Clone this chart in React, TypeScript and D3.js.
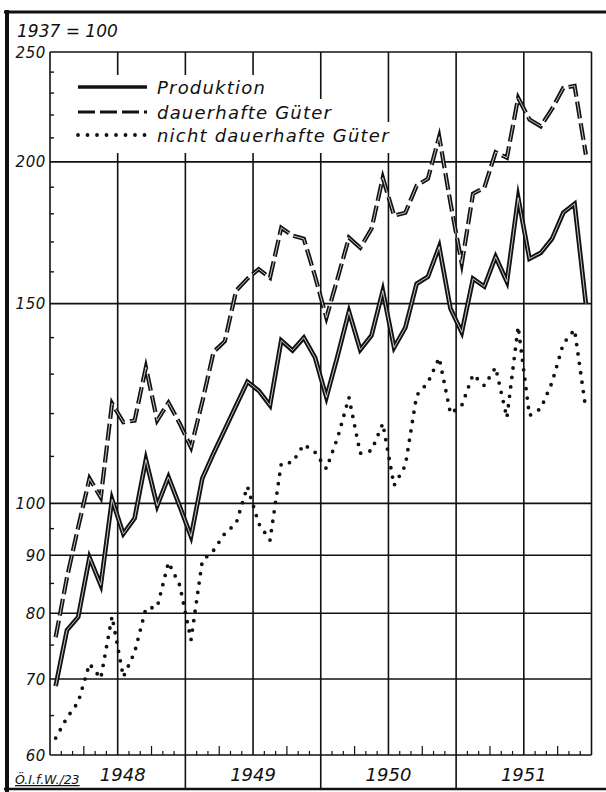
import { scaleLinear, scaleLog, line } from 'd3';

// monthly index values, 1937 = 100, Jan 1948 .. Dec 1951
const years = ['1948', '1949', '1950', '1951'];

const production = [
  69, 77.3, 79.4, 89.6, 84.7, 100.8, 94, 97, 109.3, 99.5, 105.5, 99.4,
  93.5, 105.2, 110.7, 116.2, 122, 128, 125.7, 122, 139.2, 136.4, 140, 134.4,
  124, 135, 147.6, 136.6, 140.6, 154, 137.2, 142.9, 156.2, 158.4, 168.4, 148.5,
  141.5, 157.8, 155.3, 165, 156.8, 186, 164.3, 166.3, 171.1, 180.4, 183.7, 150,
];

const durable = [
  76.2, 86, 95.3, 105.2, 101.2, 122.5, 117.9, 118.3, 131.8, 118.3, 122.7, 117.6,
  112, 122.9, 136, 139, 154, 157.8, 160.9, 158.1, 175, 172.2, 171.1, 158.5,
  145.8, 158, 171.5, 168, 174.6, 193.7, 179.3, 180.4, 190.6, 193.3, 210.5, 184,
  162.7, 187.5, 189.8, 204, 201.7, 227.8, 218, 215, 222.7, 232.4, 233.4, 203,
];

const nonDurable = [
  62.1, 64.7, 66.8, 72.2, 70.1, 79.5, 70.3, 73.9, 80.8, 81, 88.7, 84.7,
  75.8, 89, 90.9, 94.1, 96, 103.5, 96, 92.8, 108.4, 108.7, 112.7, 110.9,
  107.3, 114.3, 124, 110.7, 111.3, 117.6, 103.7, 108, 124.5, 127.8, 134.4, 120,
  122, 129.9, 127, 131.8, 119, 143.2, 119.5, 121.2, 127.8, 138.3, 142.3, 121,
];

const gridValues = [60, 70, 80, 90, 100, 150, 200, 250];
const minorValues = [65, 75, 85, 95, 110, 120, 130, 140, 160, 170, 180, 190, 210, 220, 230, 240];
const legendLabels = ['Produktion', 'dauerhafte Güter', 'nicht dauerhafte Güter'];

const W = 606;
const H = 792;
const FONT = '"DejaVu Sans", sans-serif';

const x = scaleLinear().domain([0, 48]).range([50, 591.5]);
const y = scaleLog().domain([60, 250]).range([755, 52]);

const seriesLine = line<number>()
  .x((_, i) => x(i + 0.5))
  .y((d) => y(d));

const styles = [
  { width: 4.6, dash: undefined as string | undefined, cap: 'butt' },
  { width: 4.2, dash: '17 5', cap: 'butt' },
  { width: 3.8, dash: '0 9.5', cap: 'round' },
];

export default function App() {
  const series = [production, durable, nonDurable];
  const bottom = y(60);
  const top = y(250);

  // month ticks on the time axis
  const monthTicks = Array.from({ length: 47 }, (_, i) => i + 1).filter((m) => m % 6 !== 0);

  const legendY = [87, 112, 135];
  const legendBoxes = [
    { x0: 70, x1: 300, y0: 75, y1: 99 },
    { x0: 70, x1: 345, y0: 99, y1: 122 },
    { x0: 70, x1: 400, y0: 122, y1: 153 },
  ];

  return (
    <svg
      width={W}
      height={H}
      style={{ position: 'absolute', left: 0, top: 0, background: '#fff' }}
      fontFamily={FONT}
    >
      <rect x={0} y={0} width={W} height={H} fill="#fff" />

      {/* outer frame */}
      <line x1={4} x2={W} y1={12} y2={12} stroke="#111" strokeWidth={3} />
      <line x1={7} x2={7} y1={10} y2={H} stroke="#111" strokeWidth={4} />
      <line x1={4} x2={W} y1={789} y2={789} stroke="#111" strokeWidth={2.5} />

      {/* horizontal grid */}
      {gridValues.map((v) => (
        <line key={v} x1={x(0)} x2={x(48)} y1={y(v)} y2={y(v)} stroke="#111" strokeWidth={1.6} />
      ))}

      {/* vertical half-year grid */}
      {Array.from({ length: 9 }, (_, i) => i * 6).map((m) => (
        <line
          key={m}
          x1={x(m)}
          x2={x(m)}
          y1={top}
          y2={m % 12 === 0 && m > 0 && m < 48 ? 789 : bottom}
          stroke="#111"
          strokeWidth={1.6}
        />
      ))}

      {/* month ticks */}
      {monthTicks.map((m) => (
        <line
          key={m}
          x1={x(m)}
          x2={x(m)}
          y1={bottom}
          y2={bottom - (m % 3 === 0 ? 9 : 4)}
          stroke="#111"
          strokeWidth={1.2}
        />
      ))}

      {/* minor value ticks */}
      {minorValues.map((v) => (
        <line key={v} x1={x(0)} x2={x(0) + 4} y1={y(v)} y2={y(v)} stroke="#111" strokeWidth={1.4} />
      ))}

      {/* y labels */}
      {gridValues.map((v) => (
        <text
          key={v}
          x={46}
          y={y(v) + 5.5}
          textAnchor="end"
          fontSize={15}
          fontStyle="italic"
          letterSpacing={0.6}
          fill="#111"
        >
          {v}
        </text>
      ))}

      <text x={17} y={37} fontSize={17} fontStyle="italic" fill="#111">
        1937 = 100
      </text>

      {/* year labels */}
      {years.map((yr, i) => (
        <text
          key={yr}
          x={x(i * 12 + 6) + (i === 0 ? 5 : 0)}
          y={781}
          textAnchor="middle"
          fontSize={18}
          fontStyle="italic"
          fill="#111"
        >
          {yr}
        </text>
      ))}

      <text x={15} y={784} fontSize={12.5} fontStyle="italic" fill="#111" textDecoration="underline">
        Ö.I.f.W./23
      </text>

      {/* legend */}
      {legendBoxes.map((b, i) => (
        <rect key={i} x={b.x0} y={b.y0} width={b.x1 - b.x0} height={b.y1 - b.y0} fill="#fff" />
      ))}
      {legendLabels.map((label, i) => (
        <g key={label}>
          <line
            x1={78}
            x2={147}
            y1={legendY[i]}
            y2={legendY[i]}
            stroke="#111"
            strokeWidth={styles[i].width - (i === 2 ? 0 : 1)}
            strokeDasharray={styles[i].dash}
            strokeLinecap={styles[i].cap as any}
          />
          <text
            x={157}
            y={legendY[i] + 7}
            fontSize={18}
            fontStyle="italic"
            letterSpacing={1.2}
            fill="#111"
          >
            {label}
          </text>
        </g>
      ))}

      {/* series */}
      {series.map((s, i) => (
        <g key={i}>
          <path
            d={seriesLine(s) ?? ''}
            fill="none"
            stroke="#111"
            strokeWidth={styles[i].width}
            strokeDasharray={styles[i].dash}
            strokeLinecap={styles[i].cap as any}
            strokeLinejoin="miter"
            strokeMiterlimit={8}
          />
          {i < 2 && (
            <path
              d={seriesLine(s) ?? ''}
              fill="none"
              stroke="#fff"
              strokeOpacity={0.75}
              strokeWidth={1}
              strokeDasharray={styles[i].dash}
              strokeLinejoin="miter"
            />
          )}
        </g>
      ))}
    </svg>
  );
}
